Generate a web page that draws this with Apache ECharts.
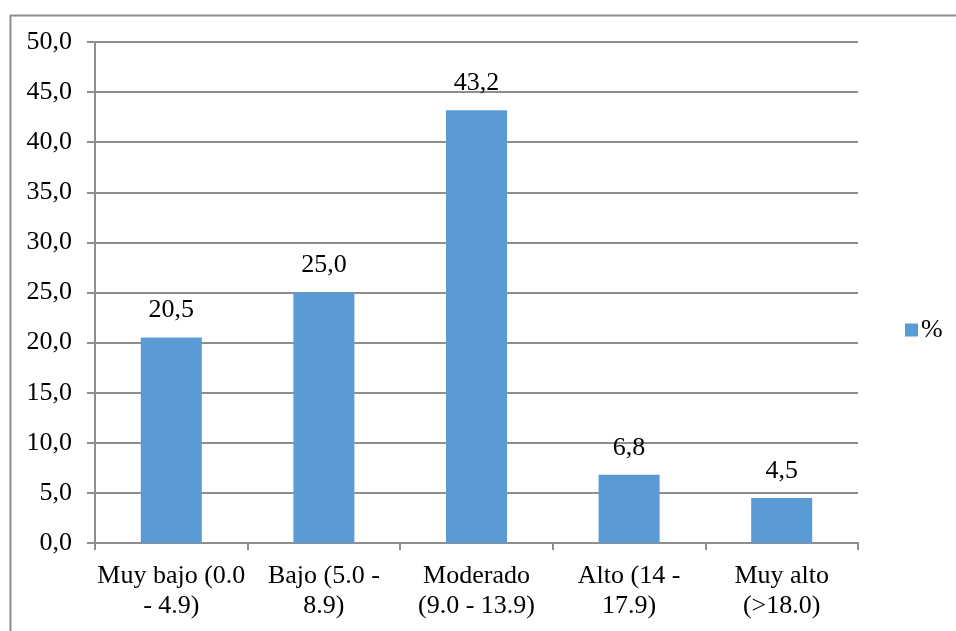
<!DOCTYPE html>
<html>
<head>
<meta charset="utf-8">
<script src="https://cdn.jsdelivr.net/npm/echarts@6/dist/echarts.min.js"></script>
<style>html,body{margin:0;padding:0;background:#fff;}#c{width:956px;height:631px;}
#pre{position:absolute;left:-9999px;font-family:'Liberation Serif';font-size:26px;}</style>
</head>
<body>
<div id="pre">Muy bajo 0,123456789 %</div>
<div id="c"></div>
<script>
const categories = ["Muy bajo (0.0\n- 4.9)", "Bajo (5.0 -\n8.9)", "Moderado\n(9.0 - 13.9)", "Alto (14 -\n17.9)", "Muy alto\n(>18.0)"];
const seriesName = "%";
const values = [20.5, 25.0, 43.2, 6.8, 4.5];

const fmt = v => Number(v).toFixed(1).replace('.', ',');
const FONT = 'Liberation Serif';
const GRAY = '#8e8e8e';

function draw() {
  const chart = echarts.init(document.getElementById('c'), null, {renderer: 'canvas'});
  chart.setOption({
    animation: false,
    backgroundColor: '#fff',
    textStyle: {fontFamily: FONT},
    graphic: [{
      type: 'rect', left: 8, top: 13, silent: true,
      shape: {x: 0, y: 0, width: 1000, height: 1000},
      style: {fill: 'none', stroke: GRAY, lineWidth: 2}
    }],
    grid: {left: 95, right: 98, top: 42, bottom: 88, containLabel: false},
    legend: {
      data: [seriesName], left: 900, top: 312, orient: 'vertical',
      itemWidth: 13, itemHeight: 13, itemGap: 5,
      icon: 'rect',
      textStyle: {fontFamily: FONT, fontSize: 26, color: '#000', padding: [0, 0, 0, -2]}
    },
    xAxis: {
      type: 'category', data: categories,
      axisLine: {lineStyle: {color: GRAY, width: 2}},
      axisTick: {show: true, length: 7, lineStyle: {color: GRAY, width: 2}, alignWithLabel: false},
      axisLabel: {fontFamily: FONT, fontSize: 26, color: '#000', lineHeight: 30, margin: 18, interval: 0}
    },
    yAxis: {
      type: 'value', min: 0, max: 50, interval: 5,
      axisLine: {show: true, lineStyle: {color: GRAY, width: 2}},
      axisTick: {show: true, length: 8, lineStyle: {color: GRAY, width: 2}},
      splitLine: {lineStyle: {color: GRAY, width: 2}},
      axisLabel: {fontFamily: FONT, fontSize: 26, color: '#000', margin: 23, formatter: fmt}
    },
    series: [{
      name: seriesName, type: 'bar', data: values,
      barCategoryGap: '60%',
      itemStyle: {color: '#5B9BD5'},
      label: {show: true, position: 'top', distance: 14, fontFamily: FONT, fontSize: 26, color: '#000', formatter: p => fmt(p.value)}
    }]
  });
}
if (document.fonts && document.fonts.load) {
  document.fonts.load("26px 'Liberation Serif'").then(draw, draw);
} else { draw(); }
</script>
</body>
</html>
